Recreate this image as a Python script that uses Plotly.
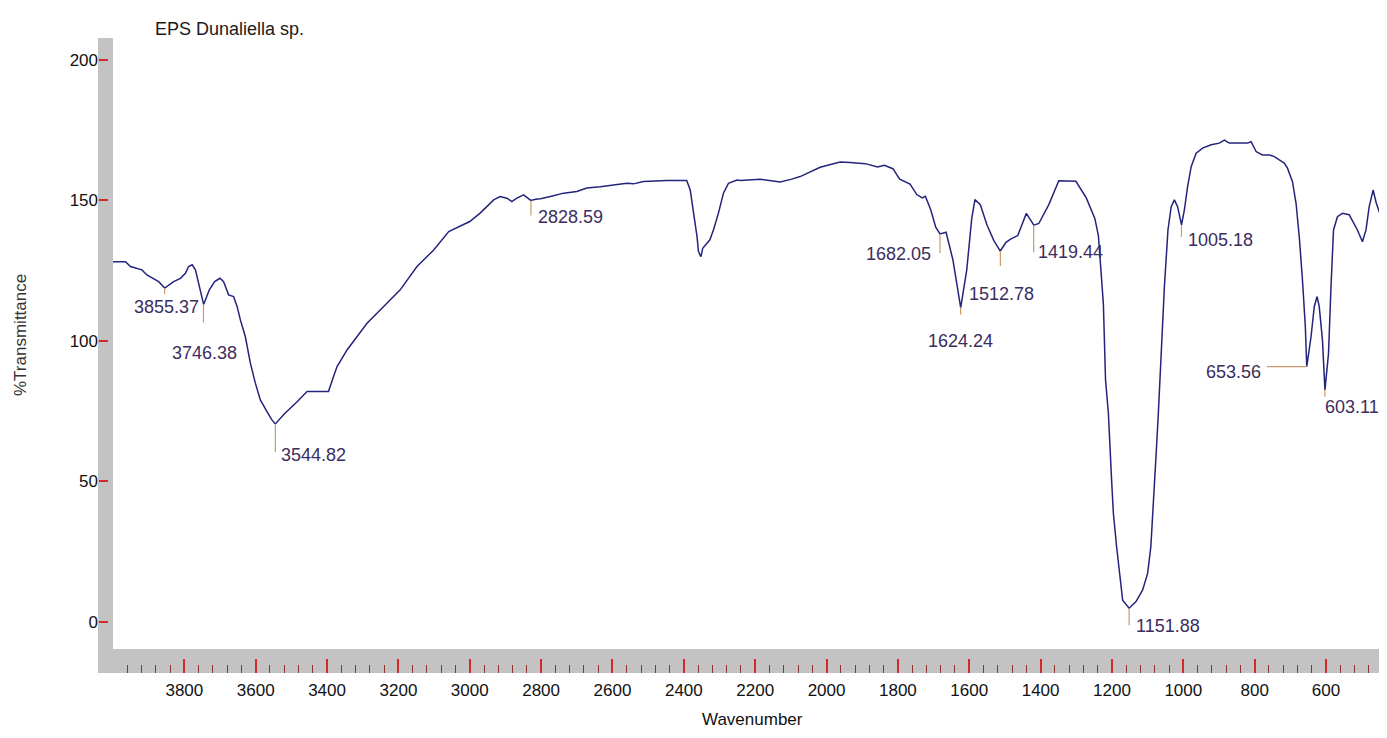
import plotly.graph_objects as go

# ---------------- data ----------------
wavenumber = [4000, 3965, 3951, 3933, 3919, 3905, 3890, 3872, 3855, 3844, 3830, 3811, 3797, 3788,
              3778, 3769, 3760, 3752, 3746, 3730, 3715, 3700, 3690, 3676, 3662, 3652, 3643, 3629,
              3615, 3601, 3587, 3568, 3555, 3545, 3520, 3484, 3456, 3428, 3396, 3382, 3372, 3344,
              3316, 3288, 3242, 3195, 3148, 3101, 3059, 3027, 3000, 2971, 2952, 2933, 2915, 2896,
              2882, 2868, 2849, 2838, 2829, 2815, 2802, 2774, 2737, 2700, 2672, 2634, 2597, 2560,
              2541, 2513, 2448, 2392, 2382, 2373, 2363, 2359, 2352, 2347, 2327, 2317, 2303, 2289,
              2275, 2251, 2242, 2186, 2150, 2130, 2100, 2074, 2018, 1962, 1934, 1891, 1857, 1838,
              1814, 1795, 1766, 1747, 1732, 1723, 1708, 1694, 1682, 1665, 1646, 1624, 1607, 1593,
              1584, 1569, 1550, 1531, 1513, 1497, 1483, 1464, 1440, 1425, 1419, 1405, 1377, 1349,
              1301, 1272, 1248, 1238, 1224, 1218, 1210, 1201, 1196, 1187, 1177, 1170, 1152, 1133,
              1114, 1100, 1091, 1082, 1075, 1070, 1062, 1053, 1043, 1034, 1025, 1016, 1005, 997,
              988, 978, 964, 946, 922, 899, 885, 871, 820, 810, 796, 778, 759, 745, 731, 717, 708,
              694, 684, 675, 666, 658, 654, 642, 633, 625, 619, 610, 603, 593, 586, 579, 568, 554,
              535, 521, 512, 498, 488, 479, 468, 459, 446, 431, 425]
transmittance = [128.2, 128.2, 126.5, 125.9, 125.3, 123.5, 122.3, 121.1, 118.8, 119.9, 121.1, 122.3,
                 124.1, 126.5, 127.1, 125.3, 120.5, 115.8, 113.0, 118.2, 121.1, 122.3, 121.1, 116.4,
                 115.8, 112.2, 107.5, 101.5, 92.1, 85.0, 79.0, 74.8, 72.0, 70.5, 74.0, 78.4, 82.0,
                 82.0, 82.0, 87.3, 90.9, 96.8, 101.5, 106.3, 112.2, 118.2, 126.5, 132.4, 138.9,
                 141.0, 142.5, 145.5, 147.8, 150.2, 151.4, 150.8, 149.6, 150.8, 152.0, 151.0, 150.0,
                 150.4, 150.6, 151.4, 152.6, 153.2, 154.4, 154.9, 155.5, 156.1, 155.9, 156.7, 157.1,
                 157.1, 153.7, 146.6, 137.1, 131.8, 130.0, 133.0, 136.0, 139.5, 145.5, 152.6, 156.1,
                 157.3, 157.1, 157.5, 157.0, 156.6, 157.5, 158.5, 161.8, 163.7, 163.5, 163.1, 161.9,
                 162.5, 161.3, 157.6, 155.8, 152.1, 150.9, 151.5, 146.7, 140.5, 138.1, 138.7, 129.0,
                 111.9, 125.3, 143.6, 150.3, 148.5, 141.2, 135.7, 132.0, 135.1, 136.3, 137.5, 145.4,
                 142.6, 141.2, 141.8, 148.5, 157.0, 156.8, 150.9, 143.6, 137.5, 113.1, 86.1, 74.3,
                 50.5, 38.7, 26.8, 14.9, 7.8, 4.9, 7.2, 11.4, 17.3, 26.8, 44.6, 62.4, 74.3, 95.6,
                 119.3, 139.5, 147.8, 150.2, 147.8, 141.3, 146.6, 154.9, 162.0, 166.8, 168.6, 169.8,
                 170.4, 171.5, 170.4, 170.4, 170.9, 167.4, 166.2, 166.2, 165.6, 164.4, 163.3, 161.5,
                 156.7, 149.0, 137.1, 121.7, 105.1, 90.9, 101.5, 112.2, 115.8, 112.2, 100.4, 82.6,
                 95.6, 119.3, 139.5, 144.2, 145.4, 144.9, 141.9, 139.5, 135.3, 139.5, 147.8, 153.7,
                 149.0, 144.2, 150.2, 152.0]

peak_wn = [3855.37, 3746.38, 3544.82, 2828.59, 1682.05, 1624.24, 1512.78, 1419.44,
           1151.88, 1005.18, 653.56, 603.11]
peak_T = [118.8, 113.0, 70.5, 150.0, 138.1, 111.9, 132.0, 141.2, 4.9, 141.3, 90.9, 82.6]
peak_labels = ["3855.37", "3746.38", "3544.82", "2828.59", "1682.05", "1624.24", "1512.78",
               "1419.44", "1151.88", "1005.18", "653.56", "603.11"]

x_tick_vals = [3800, 3600, 3400, 3200, 3000, 2800, 2600, 2400, 2200, 2000, 1800, 1600,
               1400, 1200, 1000, 800, 600]
y_tick_vals = [0, 50, 100, 150, 200]

# ---------------- label styling (pixel offsets) ----------------
# (xanchor, xshift, yshift, marker-line length, marker-line direction)
label_style = [
    ("right", 36, -19, 6, "down"),
    ("center", 1, -49, 18, "down"),
    ("left", 4, -31, 28, "down"),
    ("left", 5, -17, 15, "down"),
    ("right", -7, -20, 19, "down"),
    ("center", 0, -33, 7, "down"),
    ("left", -33, -43, 15, "down"),
    ("left", 2, -27, 27, "down"),
    ("left", 5, -18, 17, "down"),
    ("left", 5, -15, 12, "down"),
    ("right", -44, -5, 40, "left"),
    ("left", -2, -17, 7, "down"),
]

FONT = "Liberation Sans, Arial, sans-serif"
OFF = 8                      # the page body adds an 8 px margin around the figure
W = 1387 - 2 * OFF           # fit inside the visible page width
H = 738 - 2 * OFF            # keep the page free of scrollbars
ML, MT = 98 - OFF, 38 - OFF
MB = H - (673 - OFF)
plot_w = W - ML
plot_h = H - MT - MB
band_w = 15
band_h = 24
x_right = 451.5              # wavenumber at the visible right edge

fig = go.Figure()
fig.add_trace(go.Scatter(
    x=wavenumber, y=transmittance, mode="lines",
    line=dict(color="#24247c", width=1.5), hoverinfo="skip", showlegend=False))

# grey frame bands
fig.add_shape(type="rect", xref="paper", yref="paper", x0=0, x1=band_w / plot_w, y0=0, y1=1,
              fillcolor="#c3c3c3", line=dict(width=0), layer="below")
fig.add_shape(type="rect", xref="paper", yref="paper", x0=0, x1=1, y0=0, y1=band_h / plot_h,
              fillcolor="#c3c3c3", line=dict(width=0), layer="below")

# peak markers and labels
for wn, t, lab, (xa, xs, ys, ln, dr) in zip(peak_wn, peak_T, peak_labels, label_style):
    if dr == "down":
        fig.add_shape(type="line", xref="x", yref="y", x0=wn, x1=wn,
                      ysizemode="pixel", yanchor=t, y0=0, y1=-ln,
                      line=dict(color="#c9996b", width=1.2))
    else:
        fig.add_shape(type="line", xref="x", yref="y", y0=t, y1=t,
                      xsizemode="pixel", xanchor=wn, x0=0, x1=-ln,
                      line=dict(color="#c9996b", width=1.2))
    fig.add_annotation(x=wn, y=t, xref="x", yref="y", text=lab, showarrow=False,
                       xanchor=xa, yanchor="middle", xshift=xs, yshift=ys,
                       font=dict(family=FONT, size=18, color="#3b2d5e"))

# axis titles (positions given in reference-page pixels)
fig.add_annotation(xref="paper", yref="paper", x=(20 - 98) / plot_w, y=(673 - 335) / plot_h,
                   text="%Transmittance", textangle=-90, showarrow=False,
                   xanchor="center", yanchor="middle",
                   font=dict(family=FONT, size=17, color="#333333"))
fig.add_annotation(xref="paper", yref="paper", x=(752 - 98) / plot_w, y=(673 - 719) / plot_h,
                   text="Wavenumber", showarrow=False, xanchor="center", yanchor="middle",
                   font=dict(family=FONT, size=17, color="#111111"))

fig.update_layout(
    width=W, height=H,
    margin=dict(l=ML, r=0, t=MT, b=MB, autoexpand=False),
    paper_bgcolor="white", plot_bgcolor="white",
    showlegend=False,
    title=dict(text="EPS Dunaliella sp.", x=(155 - OFF) / W, xanchor="left",
               y=1 - (29 - OFF) / H, yanchor="middle",
               font=dict(family=FONT, size=18, color="#1a1a1a")),
    xaxis=dict(domain=[band_w / plot_w, 1], range=[4000, x_right], anchor="free", position=0,
               automargin=False,
               tickmode="array", tickvals=x_tick_vals, ticklabelstandoff=5,
               ticks="inside", ticklen=14, tickwidth=1.6, tickcolor="#d22a2a",
               minor=dict(dtick=40, ticks="inside", ticklen=8, tickwidth=1.3,
                          tickcolor="#8e3434", showgrid=False),
               showgrid=False, zeroline=False, showline=False,
               tickfont=dict(family=FONT, size=17, color="#111111")),
    yaxis=dict(domain=[band_h / plot_h, 1], range=[-9.6, 207.8], anchor="free", position=0,
               automargin=False,
               tickmode="array", tickvals=y_tick_vals,
               ticks="inside", ticklen=9, tickwidth=2, tickcolor="#d22a2a",
               showgrid=False, zeroline=False, showline=False,
               tickfont=dict(family=FONT, size=17, color="#111111")),
)

fig.write_html("out.html")
